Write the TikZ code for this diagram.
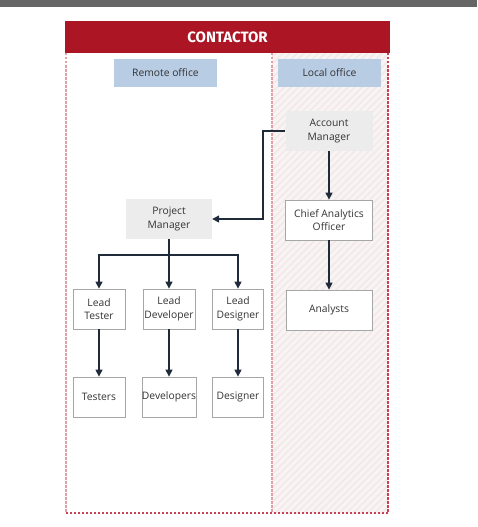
\documentclass[tikz,border=0pt]{standalone}
\usepackage{fontspec}
\setmainfont{Open Sans}
\newfontfamily\headfont{Fira Sans}
\usetikzlibrary{arrows.meta,patterns.meta}
\definecolor{hdrred}{HTML}{AB1524}
\definecolor{dashred}{HTML}{C64356}
\definecolor{lightdash}{HTML}{E0A0A8}
\definecolor{officeblue}{HTML}{B8CCE4}
\definecolor{boxgray}{HTML}{ECECEC}
\definecolor{bordergray}{HTML}{A6A6A6}
\definecolor{arrowcol}{HTML}{1F2A3A}
\definecolor{txt}{HTML}{333333}
\definecolor{hatchbg}{HTML}{F9F4F4}
\definecolor{hatchline}{HTML}{F3E8E8}
\tikzset{
  base/.style={inner sep=0pt, align=center, text=txt, font=\fontsize{10.3}{13.5}\selectfont},
  office/.style={base, fill=officeblue, minimum width=103pt, minimum height=28pt},
  graybox/.style={base, fill=boxgray, minimum width=87pt, minimum height=40pt},
  whitebox/.style={base, fill=white, draw=bordergray, line width=0.8pt, minimum height=40pt},
  arr/.style={draw=arrowcol, line width=1.3pt, -{Triangle[width=7pt,length=7pt]}},
  ln/.style={draw=arrowcol, line width=1.3pt},
}
\begin{document}
\begin{tikzpicture}[x=1pt,y=-1pt]
\useasboundingbox (0,0) rectangle (477,527);
\fill[white] (0,0) rectangle (477,527);
% top gray bar
\fill[black!60] (0,0) rectangle (477,7);
% hatched right region
\fill[hatchbg] (272,53) rectangle (388,513);
\fill[pattern={Lines[angle=45,distance=5pt,line width=1.5pt]}, pattern color=hatchline] (272,53) rectangle (388,513);
% dashed borders
\draw[lightdash, line width=1.1pt, dash pattern=on 2.5pt off 1.5pt] (66,53) -- (66,513);
\draw[lightdash, line width=1.1pt, dash pattern=on 2.5pt off 1.5pt] (272,53) -- (272,513);
\draw[dashred, line width=1.1pt, dash pattern=on 2.5pt off 1.5pt] (388,53) -- (388,513) -- (66,513);
% header
\node[fill=hdrred, minimum width=325pt, minimum height=32pt, inner sep=0pt, text=white, font=\headfont\bfseries\fontsize{15}{17}\selectfont] (hdr) at (227.5,37) {CONTACTOR};
% offices
\node[office] (remote) at (165.5,73) {Remote office};
\node[office] (local) at (329.5,73) {Local office};
% nodes
\node[graybox] (am) at (329,131) {Account\\Manager};
\node[whitebox, minimum width=87pt] (cao) at (329,220) {Chief Analytics\\Officer};
\node[whitebox, minimum width=86pt] (an) at (329,310) {Analysts};
\node[graybox, minimum width=86pt] (pm) at (169,219) {Project\\Manager};
\node[whitebox, minimum width=52pt] (lt) at (99,309) {Lead\\Tester};
\node[whitebox, minimum width=52pt] (ldv) at (169,309) {Lead\\Developer};
\node[whitebox, minimum width=51pt] (lds) at (238,309) {Lead\\Designer};
\node[whitebox, minimum width=52pt] (ts) at (99,397) {Testers};
\node[whitebox, minimum width=52pt] (dv) at (169,397) {Developers};
\node[whitebox, minimum width=51pt] (ds) at (238,397) {Designer};
% connectors
\coordinate (bend) at (263,131);
\draw[arr] (am.west) -- (bend) |- (pm.east);
\draw[arr] (am.south) -- (cao.north);
\draw[arr] (cao.south) -- (an.north);
\coordinate (bus) at (169,255);
\draw[ln] (pm.south) -- (bus);
\draw[arr] (bus) -| (lt.north);
\draw[arr] (bus) -- (ldv.north);
\draw[arr] (bus) -| (lds.north);
\draw[arr] (lt.south) -- (ts.north);
\draw[arr] (ldv.south) -- (dv.north);
\draw[arr] (lds.south) -- (ds.north);
\end{tikzpicture}
\end{document}
